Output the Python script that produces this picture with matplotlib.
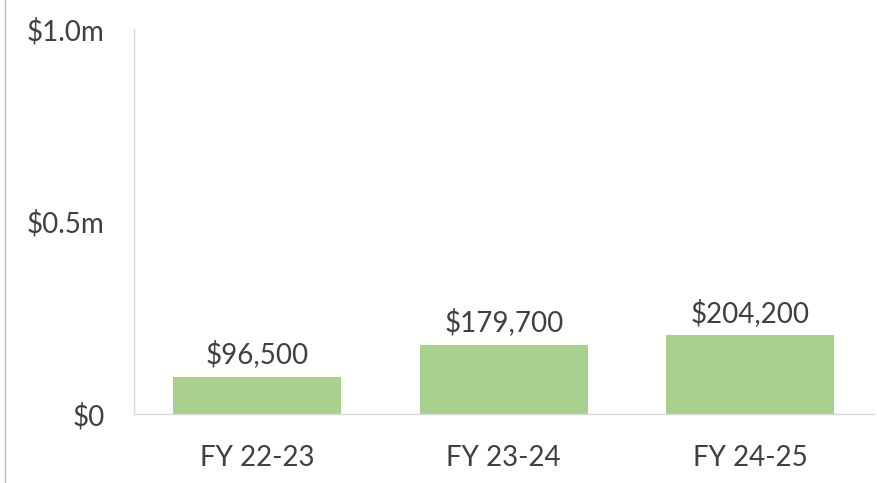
import matplotlib.pyplot as plt
from matplotlib.lines import Line2D
from matplotlib.ticker import FixedLocator

years = ['FY 22-23', 'FY 23-24', 'FY 24-25']
funding = [96500, 179700, 204200]
ytick_vals = [0, 500000, 1000000]
ytick_labels = ['$0', '$0.5m', '$1.0m']

plt.rcParams['font.family'] = ['Lato', 'DejaVu Sans']
txt = '#404040'
fs = 20

fig = plt.figure(figsize=(8.77, 4.83), dpi=100)
ax = fig.add_axes([134/877, 1-414/483, (873.5-134)/877, (414-29)/483])

x = range(len(years))
ax.bar(x, funding, width=0.68, color='#A9D18E', zorder=2)
for xi, v in zip(x, funding):
    ax.text(xi, v + 22000, '${:,}'.format(v), ha='center', va='bottom',
            fontsize=fs, color=txt)

ax.set_xlim(-0.5, len(years) - 0.5)
ax.set_ylim(0, 1000000)
ax.yaxis.set_major_locator(FixedLocator(ytick_vals))
ax.set_yticklabels(ytick_labels)
ax.set_xticks(list(x))
ax.set_xticklabels(years)
ax.tick_params(axis='y', length=0, pad=21, labelsize=fs, labelcolor=txt)
ax.tick_params(axis='x', length=0, pad=22, labelsize=fs, labelcolor=txt)

for s in ['top', 'right']:
    ax.spines[s].set_visible(False)
for s in ['left', 'bottom']:
    ax.spines[s].set_color('#D9D9D9')
    ax.spines[s].set_linewidth(1)

# thin frame line at the far left of the picture
fig.lines.append(Line2D([4.5/877, 4.5/877], [0, 1], transform=fig.transFigure,
                        color='#BFBFBF', linewidth=1))

fig.savefig('out.png', dpi=100)
